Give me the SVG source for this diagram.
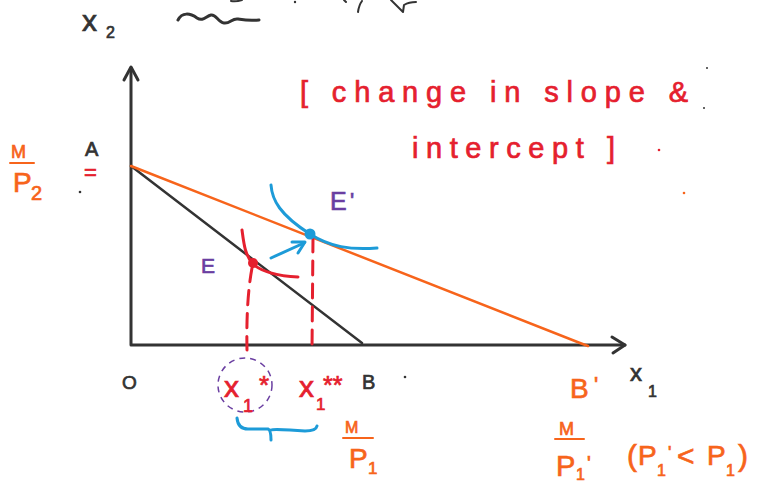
<svg xmlns="http://www.w3.org/2000/svg" width="768" height="482" viewBox="0 0 768 482">
<style>
text{font-family:"Liberation Sans","DejaVu Sans",sans-serif;stroke-width:0.7}
.k{fill:#333;stroke:#333}
.r{fill:#e5202e;stroke:#e5202e}
.o{fill:#f7641b;stroke:#f7641b}
.p{fill:#6a3ea1;stroke:#6a3ea1}
.ln{fill:none;stroke-linecap:round;stroke-linejoin:round}
.sk{stroke:#333}
.sr{stroke:#e5202e}
.so{stroke:#f7641b}
.sb{stroke:#1d9bd8}
.sp{stroke:#6a3ea1}
</style>
<rect width="768" height="482" fill="#fff"/>

<g id="top-scribbles">
<path class="ln sk" stroke-width="3" d="M178,20 C182,12 190,13 197,18 C203,22 206,16 211,15 C216,14 218,22 224,23 C230,24 232,18 238,19 C244,20 248,21 259,20"/>
<path class="ln sk" stroke-width="2" d="M231,1 Q236,2 242,0 M344,0 L346,2 M358,12 Q359,5 362,1 M391,0 Q398,7 403,12 L404,5 Q409,2 416,2"/>
<circle cx="295" cy="2" r="1.2" fill="#333"/>
</g>

<g id="connectors">
<path class="ln sk" stroke-width="3" d="M131,68 L131,345 L625,345"/>
<path class="ln sk" stroke-width="3" d="M124,80 L131,67 L138,80"/>
<path class="ln sk" stroke-width="3" d="M612,337 L625,345 L613,353"/>
<path class="ln sk" stroke-width="2.5" d="M131,166 L362,343"/>
<path class="ln so" stroke-width="2.5" d="M131,166 L580,343 L588,346"/>
<path class="ln sr" stroke-width="3" stroke-dasharray="14 9" d="M252,268 Q246,300 247,350"/>
<path class="ln sr" stroke-width="3" stroke-dasharray="14 9" d="M313,238 L312,350"/>
<path class="ln sb" stroke-width="3" d="M271,258 L304,243"/>
<path class="ln sb" stroke-width="3" d="M292,242 L305,242 L298,253"/>
</g>

<g id="E">
<path class="ln sr" stroke-width="3" d="M242,230 C244,245 245,255 253,264 C262,272 280,276 298,277"/>
<circle cx="253" cy="263" r="5" fill="#e5202e"/>
<text class="p" x="201" y="273" font-size="21">E</text>
</g>

<g id="E-prime">
<path class="ln sb" stroke-width="3" d="M271,185 C272,200 280,215 310,234 C330,247 350,250 377,248"/>
<circle cx="310" cy="234" r="5.5" fill="#1d9bd8"/>
<text class="p" x="330" y="210" font-size="25">E</text>
<text class="p" x="350" y="208" font-size="22">'</text>
</g>

<g id="title">
<text class="r" x="300" y="102" font-size="29" textLength="388" lengthAdjust="spacing">[ change in slope &amp;</text>
<text class="r" x="412" y="158" font-size="29" textLength="203" lengthAdjust="spacing">intercept ]</text>
</g>

<g id="y-axis-labels">
<text class="k" x="82" y="31" font-size="30">x</text>
<text class="k" x="106" y="38" font-size="16">2</text>
<text class="k" x="85" y="156" font-size="20">A</text>
<text class="r" x="84" y="180" font-size="22">=</text>
<text class="o" x="11" y="158" font-size="18">M</text>
<path class="ln so" stroke-width="2" d="M10,163 L34,163"/>
<text class="o" x="13" y="192" font-size="28">P</text>
<text class="o" x="31" y="200" font-size="20">2</text>
</g>

<g id="x-axis-labels">
<text class="k" x="122" y="389" font-size="19">O</text>
<ellipse cx="245" cy="385" rx="27" ry="27" fill="none" stroke="#6a3ea1" stroke-width="1.5" stroke-dasharray="6 5"/>
<text class="r" x="224" y="397" font-size="30">x</text>
<text class="r" x="243" y="412" font-size="18">1</text>
<text class="r" x="259" y="394" font-size="26">*</text>
<text class="r" x="299" y="397" font-size="30">x</text>
<text class="r" x="316" y="410" font-size="17">1</text>
<text class="r" x="323" y="394" font-size="25">**</text>
<text class="k" x="362" y="389" font-size="20">B</text>
<path class="ln sb" stroke-width="3" d="M237,418 Q238,429 248,429 L268,429 Q271,430 271,440 M271,430 Q273,429 290,430 L305,431 Q316,431 317,426"/>
<text class="o" x="345" y="433" font-size="16">M</text>
<path class="ln so" stroke-width="2" d="M343,438 L373,438"/>
<text class="o" x="349" y="468" font-size="28">P</text>
<text class="o" x="368" y="474" font-size="17">1</text>
<text class="o" x="570" y="398" font-size="28">B</text>
<text class="o" x="594" y="392" font-size="22">'</text>
<text class="k" x="630" y="381" font-size="24">x</text>
<text class="k" x="648" y="397" font-size="16">1</text>
<text class="o" x="559" y="435" font-size="18">M</text>
<path class="ln so" stroke-width="2" d="M555,439 L584,439"/>
<text class="o" x="556" y="476" font-size="29">P</text>
<text class="o" x="576" y="480" font-size="16">1</text>
<text class="o" x="587" y="470" font-size="20">'</text>
<text class="o" x="627" y="466" font-size="30">(</text>
<text class="o" x="638" y="465" font-size="28">P</text>
<text class="o" x="657" y="476" font-size="16">1</text>
<text class="o" x="668" y="459" font-size="18">'</text>
<text class="o" x="677" y="466" font-size="30">&lt;</text>
<text class="o" x="707" y="465" font-size="28">P</text>
<text class="o" x="726" y="476" font-size="16">1</text>
<text class="o" x="738" y="466" font-size="30">)</text>
</g>

<g id="dots">
<circle cx="80" cy="192" r="1.3" fill="#333"/>
<circle cx="405" cy="377" r="1.3" fill="#333"/>
<circle cx="707" cy="68" r="1" fill="#333"/>
<circle cx="704" cy="108" r="1" fill="#333"/>
<circle cx="659" cy="150" r="1.3" fill="#e5202e"/>
<circle cx="684" cy="193" r="1.3" fill="#f7641b"/>
</g>
</svg>
